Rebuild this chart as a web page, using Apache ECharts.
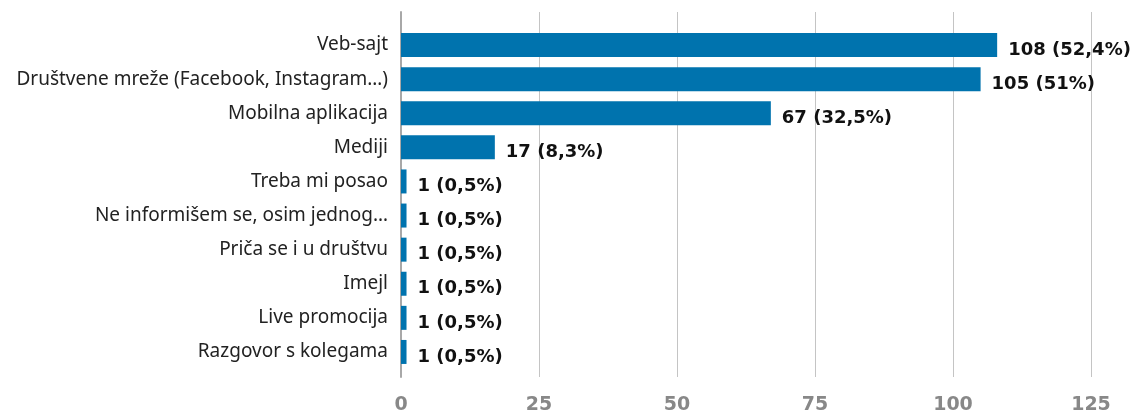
<!DOCTYPE html>
<html>
<head>
<meta charset="utf-8">
<script src="https://cdn.jsdelivr.net/npm/echarts@6/dist/echarts.min.js"></script>
<style>
  html, body { margin: 0; padding: 0; background: #fff; }
  #main { width: 1135px; height: 415px; }
</style>
</head>
<body>
<div id="main"></div>
<script>
var categories = ['Veb-sajt', 'Društvene mreže (Facebook, Instagram…)', 'Mobilna aplikacija', 'Mediji',
    'Treba mi posao', 'Ne informišem se, osim jednog…', 'Priča se i u društvu', 'Imejl',
    'Live promocija', 'Razgovor s kolegama'];
var values = [108, 105, 67, 17, 1, 1, 1, 1, 1, 1];
var percents = ['52,4', '51', '32,5', '8,3', '0,5', '0,5', '0,5', '0,5', '0,5', '0,5'];
var xTicks = [0, 125, 25];  // min, max, interval

var myChart = echarts.init(document.getElementById('main'));
var font = '"Noto Sans"';
var boldFont = '"DejaVu Sans"';

var option = {
    animation: false,
    grid: [
        // gridlines + bottom labels
        { left: 401, right: 44, top: 12, bottom: 38 },
        // bars
        { left: 401, right: 44, top: 28, bottom: 46 }
    ],
    xAxis: [
        {
            gridIndex: 0, type: 'value', min: xTicks[0], max: xTicks[1], interval: xTicks[2],
            axisLine: { show: false }, axisTick: { show: false },
            splitLine: { lineStyle: { color: '#c4c4c4', width: 1 } },
            axisLabel: { color: '#888', fontSize: 19, fontWeight: 'bold', fontFamily: boldFont, margin: 19 }
        },
        {
            gridIndex: 1, type: 'value', min: xTicks[0], max: xTicks[1], interval: xTicks[2],
            show: false
        }
    ],
    yAxis: [
        {
            gridIndex: 0, type: 'category', data: [''],
            axisLine: { show: true, lineStyle: { color: '#a8a8a8', width: 2 } },
            axisTick: { show: false }, axisLabel: { show: false }
        },
        {
            gridIndex: 1, type: 'category', data: categories, inverse: true,
            axisLine: { show: false }, axisTick: { show: false },
            axisLabel: { color: '#222', fontSize: 19, fontFamily: font, margin: 13 }
        }
    ],
    series: [{
        type: 'bar',
        xAxisIndex: 1,
        yAxisIndex: 1,
        data: values,
        barWidth: 24,
        itemStyle: { color: '#0073ae' },
        label: {
            show: true,
            position: 'right',
            distance: 11,
            offset: [0, 5],
            color: '#111',
            fontSize: 18,
            fontWeight: 'bold',
            fontFamily: boldFont,
            formatter: function (p) {
                return p.value + ' (' + percents[p.dataIndex] + '%)';
            }
        }
    }]
};

myChart.setOption(option);
</script>
</body>
</html>
